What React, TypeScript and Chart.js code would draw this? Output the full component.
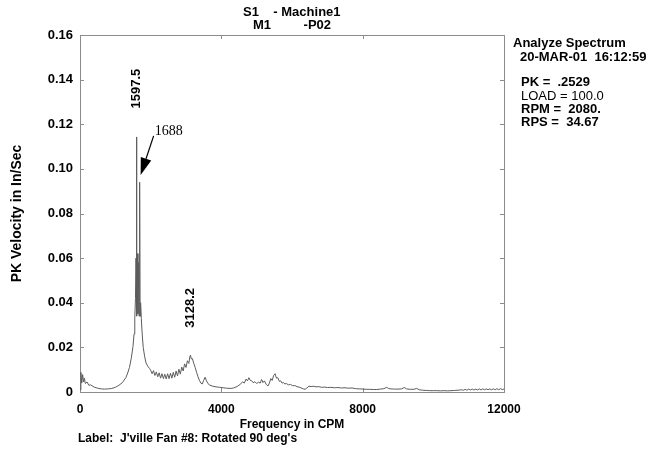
import { useEffect, useRef } from 'react';
import { Chart, registerables } from 'chart.js';

Chart.register(...registerables);

// ---------- data ----------
const FREQ_CPM = [
  0, 25, 50, 75, 100, 125, 150, 200, 250, 300,
  400, 500, 600, 700, 800, 900, 1000, 1100, 1200, 1300,
  1350, 1400, 1450, 1500, 1530, 1550, 1570, 1585, 1597.5, 1610,
  1625, 1640, 1655, 1670, 1688, 1700, 1715, 1735, 1760, 1790,
  1830, 1870, 1920, 1970, 2000, 2040, 2080, 2120, 2160, 2200,
  2240, 2280, 2320, 2360, 2400, 2440, 2480, 2520, 2560, 2600,
  2640, 2680, 2720, 2760, 2800, 2840, 2880, 2920, 2960, 3000,
  3040, 3080, 3110, 3128.2, 3150, 3180, 3220, 3260, 3300, 3340,
  3380, 3420, 3460, 3500, 3540, 3580, 3620, 3680, 3760, 3850,
  3950, 4050, 4150, 4250, 4350, 4450, 4530, 4600, 4650, 4700,
  4740, 4780, 4820, 4860, 4900, 4950, 5000, 5050, 5100, 5140,
  5180, 5220, 5270, 5320, 5360, 5400, 5440, 5480, 5520, 5560,
  5600, 5640, 5680, 5720, 5760, 5800, 5840, 5900, 5960, 6020,
  6080, 6140, 6200, 6260, 6320, 6370, 6420, 6480, 6540, 6600,
  6680, 6760, 6840, 6920, 7000, 7100, 7200, 7300, 7400, 7500,
  7600, 7700, 7800, 7900, 8000, 8100, 8200, 8300, 8400, 8500,
  8600, 8680, 8740, 8800, 8900, 9000, 9100, 9180, 9240, 9350,
  9450, 9530, 9600, 9700, 9800, 9900, 10000, 10100, 10200, 10300,
  10400, 10500, 10600, 10700, 10800, 10850, 10900, 10950, 11000, 11050,
  11100, 11150, 11200, 11250, 11300, 11350, 11400, 11450, 11500, 11550,
  11600, 11650, 11700, 11750, 11800, 11850, 11900, 11950, 12000,
];

const PK_VELOCITY = [
  0.0010, 0.0088, 0.0040, 0.0078, 0.0045, 0.0062, 0.0038, 0.0045, 0.0030, 0.0032,
  0.0022, 0.0017, 0.0014, 0.0013, 0.0014, 0.0016, 0.0021, 0.0030, 0.0042, 0.0065,
  0.0085, 0.0110, 0.0150, 0.0205, 0.0260, 0.0330, 0.0420, 0.0600, 0.1143, 0.0340,
  0.0620, 0.0350, 0.0580, 0.0340, 0.0940, 0.0340, 0.0400, 0.0330, 0.0260, 0.0200,
  0.0158, 0.0130, 0.0115, 0.0105, 0.0098, 0.0082, 0.0096, 0.0074, 0.0090, 0.0068,
  0.0086, 0.0062, 0.0082, 0.0060, 0.0080, 0.0058, 0.0082, 0.0060, 0.0084, 0.0062,
  0.0088, 0.0066, 0.0094, 0.0072, 0.0102, 0.0080, 0.0112, 0.0094, 0.0126, 0.0110,
  0.0140, 0.0128, 0.0160, 0.0165, 0.0148, 0.0150, 0.0128, 0.0110, 0.0088, 0.0068,
  0.0052, 0.0040, 0.0036, 0.0052, 0.0066, 0.0050, 0.0038, 0.0030, 0.0026, 0.0023,
  0.0021, 0.0019, 0.0017, 0.0016, 0.0018, 0.0025, 0.0034, 0.0045, 0.0040, 0.0058,
  0.0050, 0.0064, 0.0052, 0.0050, 0.0042, 0.0046, 0.0038, 0.0044, 0.0040, 0.0056,
  0.0042, 0.0050, 0.0034, 0.0027, 0.0040, 0.0060, 0.0052, 0.0074, 0.0082, 0.0062,
  0.0064, 0.0048, 0.0050, 0.0040, 0.0042, 0.0036, 0.0038, 0.0032, 0.0034, 0.0028,
  0.0029, 0.0024, 0.0022, 0.0018, 0.0014, 0.0012, 0.0018, 0.0026, 0.0024, 0.0026,
  0.0023, 0.0024, 0.0021, 0.0022, 0.0020, 0.0021, 0.0019, 0.0020, 0.0018, 0.0019,
  0.0017, 0.0018, 0.0015, 0.0014, 0.0013, 0.0012, 0.0012, 0.0011, 0.0011, 0.0013,
  0.0015, 0.0021, 0.0015, 0.0014, 0.0013, 0.0013, 0.0014, 0.0020, 0.0014, 0.0012,
  0.0012, 0.0016, 0.0010, 0.0008, 0.0007, 0.0006, 0.0006, 0.0006, 0.0005, 0.0006,
  0.0005, 0.0006, 0.0007, 0.0008, 0.0010, 0.0008, 0.0012, 0.0008, 0.0013, 0.0009,
  0.0013, 0.0009, 0.0013, 0.0009, 0.0014, 0.0009, 0.0014, 0.0010, 0.0014, 0.0010,
  0.0014, 0.0010, 0.0014, 0.0010, 0.0015, 0.0010, 0.0015, 0.0011, 0.0013,
];

const X_TICKS = [0, 4000, 8000, 12000];
const X_TICK_LABELS = ['0', '4000', '8000', '12000'];
const X_INNER_TICKS = [4000, 8000];
const Y_TICKS = [0, 0.02, 0.04, 0.06, 0.08, 0.1, 0.12, 0.14, 0.16];
const Y_TICK_LABELS = ['0', '0.02', '0.04', '0.06', '0.08', '0.10', '0.12', '0.14', '0.16'];

const X_TITLE = 'Frequency in CPM';
const Y_TITLE = 'PK Velocity in In/Sec';
const TITLE_LINE_1 = 'S1    - Machine1';
const TITLE_LINE_2 = 'M1         -P02';
const INFO_HEAD = ['Analyze Spectrum', '20-MAR-01  16:12:59'];
const INFO_LINES = ['PK =  .2529', 'LOAD = 100.0', 'RPM =  2080.', 'RPS =  34.67'];
const INFO_BOLD = [true, false, true, true];
const FOOT_LABEL = "Label:  J'ville Fan #8: Rotated 90 deg's";

const PEAK_LABEL_FREQ = [1597.5, 3128.2];
const PEAK_LABEL_TEXT = ['1597.5', '3128.2'];
const PEAK_LABEL_AT = [0.136, 0.0377];
const ARROW_FREQ = 1688;
const ARROW_AT = 0.0973;
const ARROW_TEXT = '1688';

const SANS = "'Liberation Sans', Arial, Helvetica, sans-serif";
const SERIF = "'Liberation Serif', 'Times New Roman', serif";

const decor = {
  id: 'decor',
  beforeDatasetsDraw(chart: any) {
    const { ctx, chartArea: a, scales } = chart;
    const x = scales.x;
    const y = scales.y;
    ctx.save();
    ctx.strokeStyle = '#8c8c8c';
    ctx.lineWidth = 1;
    ctx.strokeRect(Math.round(a.left) + 0.5, Math.round(a.top) + 0.5, a.right - a.left, a.bottom - a.top);
    ctx.beginPath();
    for (const v of Y_TICKS) {
      const py = Math.round(y.getPixelForValue(v)) + 0.5;
      ctx.moveTo(a.left, py);
      ctx.lineTo(a.left + 4, py);
      ctx.moveTo(a.right - 4, py);
      ctx.lineTo(a.right + 1, py);
    }
    for (const v of X_INNER_TICKS) {
      const px = Math.round(x.getPixelForValue(v)) + 0.5;
      ctx.moveTo(px, a.bottom);
      ctx.lineTo(px, a.bottom - 4);
      ctx.moveTo(px, a.top);
      ctx.lineTo(px, a.top + 4);
    }
    ctx.stroke();
    ctx.restore();
  },
  afterDraw(chart: any) {
    const { ctx, chartArea: a, scales } = chart;
    const x = scales.x;
    const y = scales.y;
    const cx = (a.left + a.right) / 2;
    ctx.save();
    ctx.fillStyle = '#000';
    ctx.textBaseline = 'middle';

    // top title
    ctx.font = `bold 13px ${SANS}`;
    ctx.textAlign = 'left';
    ctx.fillText(TITLE_LINE_1, cx - 49, 12);
    ctx.fillText(TITLE_LINE_2, cx - 39, 25);

    // info block
    ctx.fillText(INFO_HEAD[0], a.right + 9, 43);
    ctx.fillText(INFO_HEAD[1], a.right + 16, 57);
    const infoY = [82.5, 96, 109.5, 122];
    INFO_LINES.forEach((t, i) => {
      ctx.font = `${INFO_BOLD[i] ? 'bold ' : ''}13px ${SANS}`;
      ctx.fillText(t, a.right + 17, infoY[i]);
    });

    // footer label
    ctx.font = `bold 12px ${SANS}`;
    ctx.fillText(FOOT_LABEL, a.left - 2, 439);

    // peak labels (rotated)
    ctx.font = `bold 13px ${SANS}`;
    ctx.textAlign = 'center';
    PEAK_LABEL_FREQ.forEach((f, i) => {
      const px = x.getPixelForValue(f);
      const py = y.getPixelForValue(PEAK_LABEL_AT[i]);
      ctx.save();
      ctx.translate(px, py);
      ctx.rotate(-Math.PI / 2);
      ctx.fillText(PEAK_LABEL_TEXT[i], 0, 0);
      ctx.restore();
    });

    // arrow annotation
    const tipX = x.getPixelForValue(ARROW_FREQ) + 1;
    const tipY = y.getPixelForValue(ARROW_AT);
    const tailX = tipX + 13;
    const tailY = tipY - 39;
    ctx.font = `14px ${SERIF}`;
    ctx.textAlign = 'left';
    ctx.fillText(ARROW_TEXT, tipX + 14, tipY - 44);
    const dx = tipX - tailX;
    const dy = tipY - tailY;
    const len = Math.hypot(dx, dy);
    const ux = dx / len;
    const uy = dy / len;
    const hl = 17;
    const hw = 5.5;
    const bx = tipX - ux * hl;
    const by = tipY - uy * hl;
    ctx.strokeStyle = '#000';
    ctx.lineWidth = 1.2;
    ctx.beginPath();
    ctx.moveTo(tailX, tailY);
    ctx.lineTo(bx, by);
    ctx.stroke();
    ctx.beginPath();
    ctx.moveTo(tipX, tipY);
    ctx.lineTo(bx - uy * hw, by + ux * hw);
    ctx.lineTo(bx + uy * hw, by - ux * hw);
    ctx.closePath();
    ctx.fill();
    ctx.restore();
  },
};

export default function App() {
  const ref = useRef<HTMLCanvasElement>(null);
  useEffect(() => {
    if (!ref.current) return;
    const points = FREQ_CPM.map((f, i) => ({ x: f, y: PK_VELOCITY[i] }));
    const chart = new Chart(ref.current, {
      type: 'line',
      data: {
        datasets: [
          {
            data: points,
            borderColor: '#5c5c5c',
            borderWidth: 1,
            pointRadius: 0,
            tension: 0,
            fill: false,
          },
        ],
      },
      options: {
        animation: false,
        responsive: false,
        devicePixelRatio: 1,
        events: [],
        layout: { padding: { left: 0, top: 35, right: 152, bottom: 0 } },
        plugins: {
          legend: { display: false },
          tooltip: { enabled: false },
          title: { display: false },
        },
        scales: {
          x: {
            type: 'linear',
            min: 0,
            max: 12000,
            afterFit: (s: any) => { s.height = 61; },
            afterBuildTicks: (s: any) => { s.ticks = X_TICKS.map((v) => ({ value: v })); },
            grid: { display: false, drawTicks: false },
            border: { display: false },
            ticks: {
              autoSkip: false,
              maxRotation: 0,
              padding: 10,
              color: '#000',
              font: { family: SANS, size: 12, weight: 'bold' },
              callback: (_v: any, i: number) => X_TICK_LABELS[i],
            },
            title: {
              display: true,
              text: X_TITLE,
              color: '#000',
              font: { family: SANS, size: 12, weight: 'bold' },
              padding: { top: 0, bottom: 21 },
            },
          },
          y: {
            type: 'linear',
            min: 0,
            max: 0.16,
            afterFit: (s: any) => { s.width = 80; },
            afterBuildTicks: (s: any) => { s.ticks = Y_TICKS.map((v) => ({ value: v })); },
            grid: { display: false, drawTicks: false },
            border: { display: false },
            ticks: {
              padding: 7,
              color: '#000',
              font: { family: SANS, size: 13, weight: 'bold' },
              callback: (_v: any, i: number) => Y_TICK_LABELS[i],
            },
            title: {
              display: true,
              text: Y_TITLE,
              color: '#000',
              font: { family: SANS, size: 14, weight: 'bold' },
              padding: { top: 9, bottom: 0 },
            },
          },
        },
      } as any,
      plugins: [decor],
    });
    return () => chart.destroy();
  }, []);

  return (
    <div style={{ position: 'fixed', left: 0, top: 0, width: 656, height: 453, background: '#fff' }}>
      <canvas ref={ref} width={656} height={453} style={{ display: 'block' }} />
    </div>
  );
}
